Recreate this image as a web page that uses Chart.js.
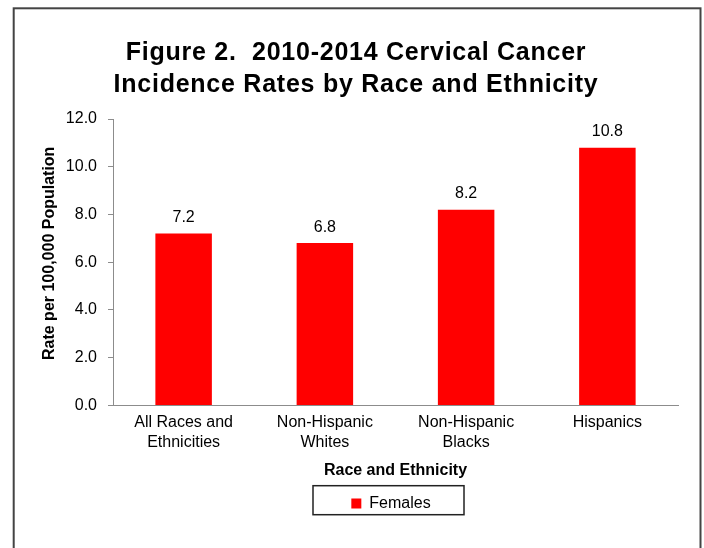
<!DOCTYPE html>
<html>
<head>
<meta charset="utf-8">
<script src="https://cdn.jsdelivr.net/npm/chart.js@4"></script>
<style>
  html, body { margin: 0; padding: 0; background: #fff; }
  canvas { display: block; }
</style>
</head>
<body>
<canvas id="c" width="704" height="548"></canvas>
<script>
// ---- data ----
const titleLines = ['Figure 2.  2010-2014 Cervical Cancer', 'Incidence Rates by Race and Ethnicity'];
const categories = [['All Races and', 'Ethnicities'], ['Non-Hispanic', 'Whites'], ['Non-Hispanic', 'Blacks'], 'Hispanics'];
const seriesName = 'Females';
const femalesRates = [7.2, 6.8, 8.2, 10.8];
const yTickValues = [0, 2, 4, 6, 8, 10, 12];
const xAxisTitle = 'Race and Ethnicity';
const yAxisTitle = 'Rate per 100,000 Population';

const FONT = '"Liberation Sans", Arial, Helvetica, sans-serif';
Chart.defaults.font.family = FONT;
Chart.defaults.color = '#000';

const framePlugin = {
  id: 'frame',
  beforeDraw(chart) {
    const ctx = chart.ctx;
    ctx.save();
    ctx.fillStyle = '#fff';
    ctx.fillRect(0, 0, chart.width, chart.height);
    ctx.strokeStyle = '#444';
    ctx.lineWidth = 2;
    ctx.strokeRect(13.7, 8.3, 686.8, 620);
    ctx.restore();
  }
};

// slightly wider character spacing for the title, as in the reference
const titleSpacing = {
  id: 'titleSpacing',
  afterLayout(chart) {
    const tb = chart.titleBlock;
    if (tb && !tb._spaced) {
      const orig = tb.draw.bind(tb);
      tb.draw = function (area) {
        const ctx = chart.ctx;
        ctx.save();
        if ('letterSpacing' in ctx) ctx.letterSpacing = '0.75px';
        orig(area);
        ctx.restore();
      };
      tb._spaced = true;
    }
  }
};

const valueLabels = {
  id: 'valueLabels',
  afterDatasetsDraw(chart) {
    const ctx = chart.ctx;
    const meta = chart.getDatasetMeta(0);
    const data = chart.data.datasets[0].data;
    ctx.save();
    ctx.font = '16px ' + FONT;
    ctx.fillStyle = '#000';
    ctx.textAlign = 'center';
    ctx.textBaseline = 'middle';
    meta.data.forEach((bar, i) => {
      ctx.fillText(data[i].toFixed(1), bar.x, bar.y - 16);
    });
    ctx.restore();
  }
};

const LEGEND_CX = 391;
const legendBox = {
  id: 'legendBox',
  afterUpdate(chart) {
    const lg = chart.legend;
    if (!lg || !lg.legendHitBoxes || !lg.legendHitBoxes.length) return;
    const hb = lg.legendHitBoxes[0];
    const dx = LEGEND_CX - (hb.left + hb.width / 2);
    lg.left += dx; lg.right += dx;
    lg.adjustHitBoxes();
  },
  afterDraw(chart) {
    const lg = chart.legend;
    if (!lg) return;
    const cx = LEGEND_CX;
    const cy = (lg.top + lg.bottom) / 2;
    const ctx = chart.ctx;
    ctx.save();
    ctx.strokeStyle = '#222';
    ctx.lineWidth = 1.5;
    ctx.strokeRect(cx - 78, cy - 15, 151, 29);
    ctx.restore();
  }
};

new Chart(document.getElementById('c'), {
  type: 'bar',
  data: {
    labels: categories,
    datasets: [{
      label: seriesName,
      data: femalesRates,
      backgroundColor: '#ff0000',
      borderWidth: 0,
      barPercentage: 0.4,
      categoryPercentage: 1.0
    }]
  },
  options: {
    responsive: false,
    animation: false,
    layout: { padding: { left: 34, right: 26, top: 0, bottom: 26.6 } },
    plugins: {
      title: {
        display: true,
        text: titleLines,
        color: '#000',
        font: { size: 25, weight: 'bold', lineHeight: 1.28 },
        padding: { top: 37.5, bottom: 17.5 }
      },
      legend: {
        display: true,
        position: 'bottom',
        labels: {
          boxWidth: 10,
          boxHeight: 10,
          padding: 15.4,
          color: '#000',
          font: { size: 16 }
        }
      },
      tooltip: { enabled: false }
    },
    scales: {
      x: {
        grid: { display: false, drawTicks: false },
        border: { display: true, color: '#8c8c8c', width: 1 },
        ticks: { color: '#000', font: { size: 16, lineHeight: 1.2 }, padding: 8, maxRotation: 0, autoSkip: false },
        title: { display: true, text: xAxisTitle, color: '#000', font: { size: 16, weight: 'bold', lineHeight: 1.2 }, padding: { top: 0, bottom: 0 } },
        afterFit(s) { s.height = 74.6; }
      },
      y: {
        min: 0,
        max: 12,
        afterBuildTicks(s) { s.ticks = yTickValues.map(v => ({ value: v })); },
        grid: { display: true, drawOnChartArea: false, drawTicks: true, tickLength: 5, color: '#8c8c8c' },
        border: { display: true, color: '#8c8c8c', width: 1 },
        ticks: { color: '#000', font: { size: 16 }, padding: 11, callback: v => Number(v).toFixed(1) },
        title: { display: true, text: '    ' + yAxisTitle, color: '#000', font: { size: 16, weight: 'bold', lineHeight: 1.2 }, padding: { top: 6.4, bottom: 0 } },
        afterFit(s) { s.width = 79; }
      }
    }
  },
  plugins: [framePlugin, titleSpacing, valueLabels, legendBox]
});
</script>
</body>
</html>
